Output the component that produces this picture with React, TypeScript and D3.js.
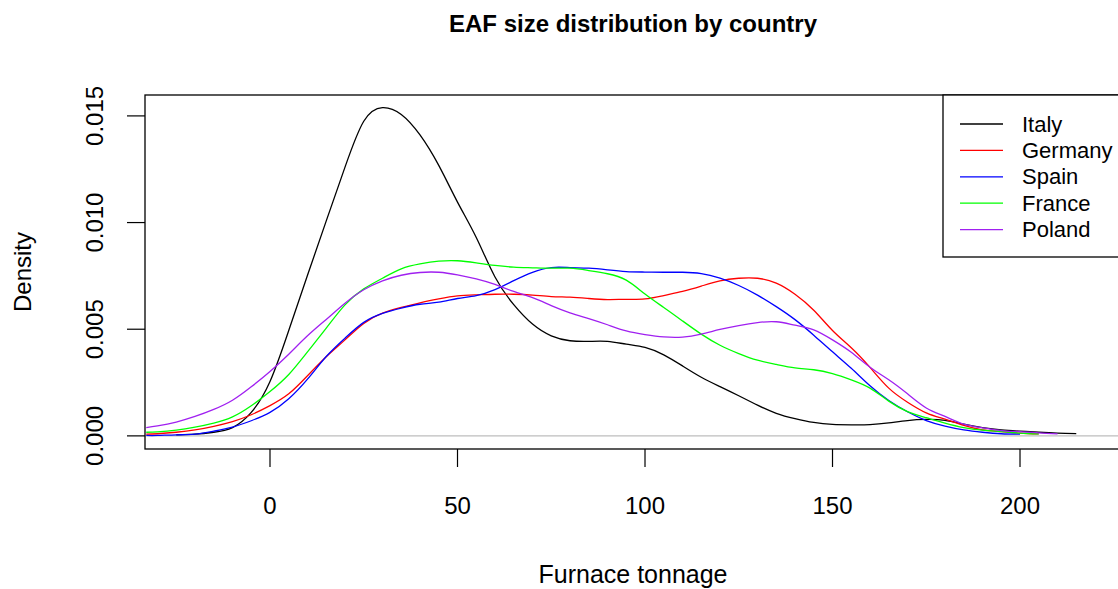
import React from "react";
import * as d3 from "d3";

const tonnage = [-33, -30, -25, -20, -15, -10, -5, 0, 5, 10, 15, 20, 25, 30, 35, 40, 45, 50, 55, 60, 65, 70, 75, 80, 85, 90, 95, 100, 105, 110, 115, 120, 125, 130, 135, 140, 145, 150, 155, 160, 165, 170, 175, 180, 185, 190, 195, 200, 205, 210, 215];

// densities in units of 1e-3
const italy = [null, null, 0.05, 0.08, 0.17, 0.39, 1.1, 2.55, 4.94, 7.53, 10.08, 12.6, 14.75, 15.39, 15.07, 14.11, 12.68, 10.96, 9.3, 7.45, 6.15, 5.24, 4.69, 4.46, 4.43, 4.43, 4.3, 4.15, 3.8, 3.28, 2.75, 2.31, 1.88, 1.44, 1.06, 0.81, 0.63, 0.54, 0.52, 0.53, 0.61, 0.72, 0.77, 0.73, 0.55, 0.39, 0.28, 0.22, 0.17, 0.13, 0.11];
const germany = [0.08, 0.1, 0.17, 0.28, 0.45, 0.67, 0.99, 1.42, 1.97, 2.82, 3.71, 4.5, 5.27, 5.75, 6.02, 6.24, 6.42, 6.56, 6.61, 6.64, 6.64, 6.6, 6.53, 6.5, 6.44, 6.39, 6.4, 6.42, 6.58, 6.77, 7.02, 7.27, 7.39, 7.39, 7.16, 6.64, 5.89, 4.94, 4.13, 3.21, 2.24, 1.58, 1.08, 0.78, 0.49, 0.28, 0.2, 0.13, 0.09, null, null];
const spain = [0.02, 0.02, 0.05, 0.08, 0.22, 0.41, 0.71, 1.1, 1.74, 2.66, 3.72, 4.58, 5.32, 5.74, 5.99, 6.17, 6.27, 6.44, 6.58, 6.86, 7.28, 7.67, 7.89, 7.89, 7.86, 7.78, 7.7, 7.68, 7.67, 7.67, 7.61, 7.39, 7.05, 6.6, 6.06, 5.45, 4.72, 3.94, 3.17, 2.35, 1.66, 1.13, 0.72, 0.46, 0.28, 0.17, 0.1, 0.08, null, null, null];
const france = [0.17, 0.19, 0.27, 0.41, 0.6, 0.89, 1.41, 2.08, 2.88, 3.94, 5.05, 6.14, 6.89, 7.39, 7.83, 8.06, 8.19, 8.21, 8.11, 7.99, 7.91, 7.88, 7.86, 7.86, 7.75, 7.6, 7.3, 6.65, 6.02, 5.39, 4.77, 4.25, 3.86, 3.55, 3.35, 3.19, 3.1, 2.92, 2.63, 2.24, 1.63, 1.14, 0.85, 0.6, 0.39, 0.27, 0.2, 0.13, 0.09, null, null];
const poland = [0.39, 0.47, 0.65, 0.91, 1.24, 1.67, 2.3, 3.02, 3.83, 4.69, 5.46, 6.22, 6.85, 7.27, 7.53, 7.66, 7.67, 7.55, 7.36, 7.1, 6.77, 6.48, 6.11, 5.77, 5.5, 5.21, 4.92, 4.75, 4.64, 4.63, 4.77, 4.99, 5.17, 5.31, 5.35, 5.19, 4.97, 4.5, 3.92, 3.22, 2.63, 1.97, 1.31, 0.91, 0.55, 0.38, 0.25, 0.2, 0.14, 0.09, null];

const countries = ["Italy", "Germany", "Spain", "France", "Poland"];
const colors = ["#000000", "#FF0000", "#0000FF", "#00FF00", "#A020F0"];
const seriesValues = [italy, germany, spain, france, poland];

const xTicks = [0, 50, 100, 150, 200];
const yTicks = [0, 0.005, 0.01, 0.015];
const yTickLabels = ["0.000", "0.005", "0.010", "0.015"];

const W = 1118;
const H = 589;
const L = 145, R = 1121, T = 95, B = 449;
const FONT = "'Liberation Sans', Arial, Helvetica, sans-serif";

export default function App() {
  const x = d3.scaleLinear().domain([-33.333, 226.93]).range([L, R]);
  const y = d3.scaleLinear().domain([-0.000615, 0.01598]).range([B, T]);

  const line = d3
    .line<[number, number | null]>()
    .defined((d) => d[1] !== null)
    .x((d) => x(d[0]))
    .y((d) => y((d[1] as number) / 1000))
    .curve(d3.curveNatural);

  const legendX = 943;
  const legendRows = [124, 150.4, 176.8, 203.2, 229.6];

  return (
    <svg
      width={W}
      height={H}
      style={{ position: "absolute", left: 0, top: 0, background: "#fff" }}
      fontFamily={FONT}
    >
      <defs>
        <clipPath id="plotclip">
          <rect x={L} y={T} width={R - L} height={B - T} />
        </clipPath>
      </defs>
      <rect x={0} y={0} width={W} height={H} fill="#fff" />
      <text x={633} y={32} textAnchor="middle" fontWeight="bold" fontSize={24} fill="#000">
        EAF size distribution by country
      </text>

      <g clipPath="url(#plotclip)">
        <line x1={L} x2={R} y1={y(0)} y2={y(0)} stroke="#BEBEBE" strokeWidth={1.3} />
        {seriesValues.map((vals, i) => (
          <path
            key={countries[i]}
            d={line(tonnage.map((t, j) => [t, vals[j]] as [number, number | null])) || ""}
            fill="none"
            stroke={colors[i]}
            strokeWidth={1.3}
          />
        ))}
      </g>

      <rect x={L} y={T} width={R - L} height={B - T} fill="none" stroke="#000" strokeWidth={1.3} />

      {/* x axis */}
      {xTicks.map((t) => (
        <g key={t}>
          <line x1={x(t)} x2={x(t)} y1={B} y2={B + 18} stroke="#000" strokeWidth={1.2} />
          <text x={x(t)} y={514} textAnchor="middle" fontSize={24} fill="#000">
            {t}
          </text>
        </g>
      ))}
      {/* y axis */}
      {yTicks.map((t, i) => (
        <g key={t}>
          <line x1={L} x2={L - 18} y1={y(t)} y2={y(t)} stroke="#000" strokeWidth={1.2} />
          <text
            transform={`translate(103, ${y(t)}) rotate(-90)`}
            textAnchor="middle"
            fontSize={24}
            fill="#000"
          >
            {yTickLabels[i]}
          </text>
        </g>
      ))}

      <text x={633} y={583} textAnchor="middle" fontSize={25} fill="#000">
        Furnace tonnage
      </text>
      <text transform={`translate(31, 272) rotate(-90)`} textAnchor="middle" fontSize={24} fill="#000">
        Density
      </text>

      {/* legend */}
      <rect x={legendX} y={T} width={R - legendX} height={257 - T} fill="#fff" stroke="#000" strokeWidth={1.3} />
      {countries.map((c, i) => (
        <g key={c}>
          <line x1={960} x2={1003} y1={legendRows[i]} y2={legendRows[i]} stroke={colors[i]} strokeWidth={1.3} />
          <text x={1022} y={legendRows[i]} dominantBaseline="central" fontSize={22} fill="#000">
            {c}
          </text>
        </g>
      ))}
    </svg>
  );
}
